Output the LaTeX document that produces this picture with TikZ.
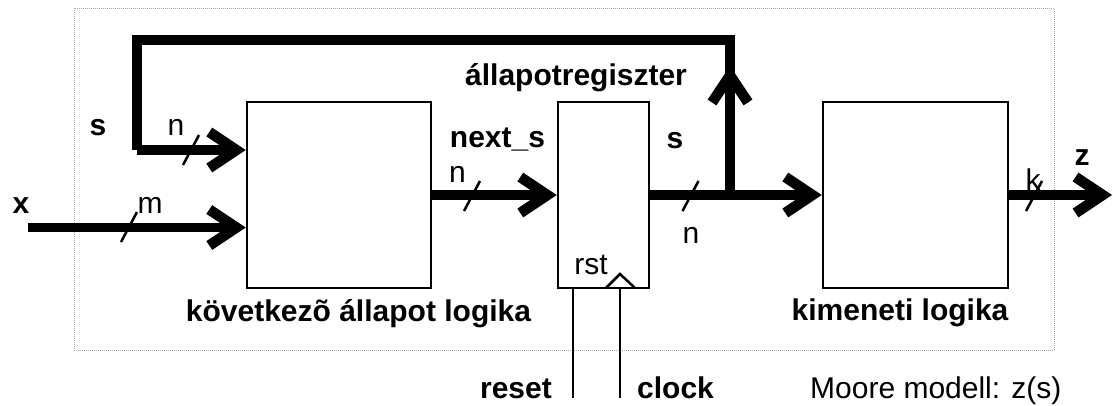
\documentclass[tikz,border=0pt]{standalone}
\usepackage{fontspec}
\setmainfont{Liberation Sans}
\usetikzlibrary{arrows.meta}
\tikzset{
  bus/.style={line width=9.5pt},
  busarrow/.style={bus, -{Straight Barb[length=27pt,width=36pt,line width=10.5pt]}},
  block/.style={draw, line width=2.5pt, minimum width=#1, minimum height=186pt, inner sep=0pt},
  wire/.style={line width=2.5pt},
  slashline/.style={line width=2.5pt},
  lbl/.style={font=\fontsize{30}{36}\selectfont, inner sep=0pt, anchor=base},
  blbl/.style={font=\fontsize{30}{36}\selectfont\bfseries, inner sep=0pt, anchor=base},
  frame/.style={draw=gray!70, line width=1pt, dash pattern=on 1pt off 1pt},
}
\begin{document}
\begin{tikzpicture}[x=1pt,y=-1pt]
\useasboundingbox (0,0) rectangle (1113,405);
% frame
\draw[frame] (74,8) rectangle (1054,350);
% blocks
\node[block=184pt] (b1) at (339,195) {};
\node[block=91pt] (reg) at (603.5,195) {};
\node[block=185pt] (b3) at (915.5,195) {};
% coordinates
\coordinate (j) at (730,195);
\coordinate (jup) at (730,66);
\coordinate (tr) at (730,40);
\coordinate (tl) at (137,40);
\coordinate (sl) at (137,150);
\coordinate (xin) at (28,227.5);
\coordinate (zout) at (1112,195);
\coordinate (rtop) at (573,288);
\coordinate (rbot) at (573,398);
\coordinate (ctop) at (620,288);
\coordinate (cbot) at (620,398);
% connectors
\draw[bus, line join=miter] (j) -- (tr) -- (tl) -- (sl);
\draw[busarrow] (sl) -- (sl -| b1.west);
\draw[busarrow] (j) -- (jup);
\draw[busarrow] (xin) -- (xin -| b1.west);
\draw[busarrow] (b1.east) -- (reg.west);
\draw[busarrow] (reg.east) -- (b3.west);
\draw[busarrow] (b3.east) -- (zout);
\draw[wire] (rtop) -- (rbot);
\draw[wire] (ctop) -- (cbot);
% clock triangle
\coordinate (ck1) at (606,288);
\coordinate (ck2) at (620,274);
\coordinate (ck3) at (635,288);
\draw[wire] (ck1) -- (ck2) -- (ck3);
% bus width slashes
\coordinate (sa) at (191,150);
\coordinate (sb) at (129,227);
\coordinate (sc) at (472,196);
\coordinate (sd) at (690.5,196);
\coordinate (se) at (1034,196);
\foreach \c in {sa,sb,sc,sd,se}
  \draw[slashline] (\c) ++(-8,15) -- ++(16,-30);
% labels
\node[blbl] (ls) at (98,135) {s};
\node[lbl] (ln1) at (176,135) {n};
\node[blbl] (lx) at (21,213) {x};
\node[lbl] (lm) at (150,213) {m};
\node[blbl] (lnext) at (497.5,147) {next\_s};
\node[lbl] (ln2) at (457.5,182) {n};
\node[blbl] (ls2) at (675,148) {s};
\node[lbl] (ln3) at (691,243) {n};
\node[blbl] (lreg) at (576,85) {állapotregiszter};
\node[lbl] (lrst) at (591,274) {rst};
\node[lbl] (lk) at (1033,190) {k};
\node[blbl] (lz) at (1082,165) {z};
\node[blbl] (lnsl) at (358.5,321.5) {következõ állapot logika};
\node[blbl] (lol) at (900,320) {kimeneti logika};
\node[blbl, anchor=base east] (lreset) at (552,398) {reset};
\node[blbl, anchor=base west] (lclock) at (637,398) {clock};
\node[lbl, anchor=base west] (lmoore) at (810,398) {Moore modell: z(s)};
\end{tikzpicture}
\end{document}
